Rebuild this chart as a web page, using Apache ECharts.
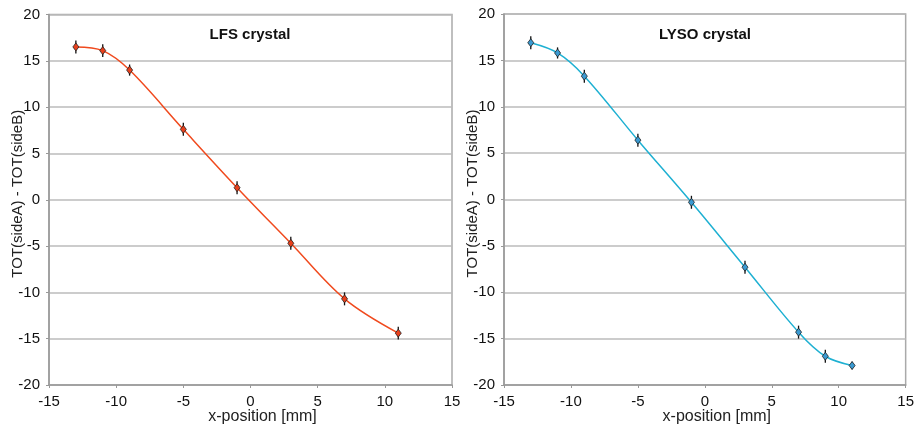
<!DOCTYPE html>
<html>
<head>
<meta charset="utf-8">
<script src="https://cdn.jsdelivr.net/npm/echarts@6/dist/echarts.min.js"></script>
<style>
  html, body { margin: 0; padding: 0; background: #fff; }
  #chart { width: 917px; height: 430px; }
</style>
</head>
<body>
<div id="chart"></div>
<script>
// Time-over-threshold difference between the two crystal ends vs. beam x-position
const lfsX = [-13, -11, -9, -5, -1, 3, 7, 11];
const lfsY = [16.5, 16.1, 14.0, 7.6, 1.3, -4.7, -10.7, -14.4];
const lfsErr = [0.7, 0.7, 0.6, 0.7, 0.7, 0.7, 0.7, 0.7];

const lysoX = [-13, -11, -9, -5, -1, 3, 7, 9, 11];
const lysoY = [16.9, 15.8, 13.3, 6.4, -0.3, -7.3, -14.3, -16.9, -17.9];
const lysoErr = [0.7, 0.6, 0.7, 0.7, 0.7, 0.7, 0.7, 0.7, 0.4];

const xTicks = { min: -15, max: 15, interval: 5 };
const yTicks = { min: -20, max: 20, interval: 5 };

const titles = ['LFS crystal', 'LYSO crystal'];
const xName = 'x-position [mm]';
const yName = 'TOT(sideA) - TOT(sideB)';

const FONT = '"Liberation Sans", Arial, Helvetica, sans-serif';

function pairs(xs, ys) { return xs.map((x, i) => [x, ys[i]]); }
function errTriples(xs, ys, es) { return xs.map((x, i) => [x, ys[i] - es[i], ys[i] + es[i]]); }

function xAxisCfg(idx) {
  return {
    gridIndex: idx, type: 'value', min: xTicks.min, max: xTicks.max, interval: xTicks.interval,
    name: xName, nameLocation: 'middle', nameGap: 24, nameMoveOverlap: false,
    nameTextStyle: { fontFamily: FONT, fontSize: 16, color: '#222', padding: [0, 0, 0, 24] },
    axisLine: { show: true, onZero: false, lineStyle: { color: '#999', width: 1.5 } },
    axisTick: { show: true, length: 3, lineStyle: { color: '#999' } },
    axisLabel: { fontFamily: FONT, fontSize: 15, color: '#111', margin: 9 },
    splitLine: { show: false }
  };
}
function yAxisCfg(idx) {
  return {
    gridIndex: idx, type: 'value', min: yTicks.min, max: yTicks.max, interval: yTicks.interval,
    name: yName, nameLocation: 'middle', nameGap: 24, nameMoveOverlap: false,
    nameTextStyle: { fontFamily: FONT, fontSize: 15, color: '#222', padding: [0, 0, 0, 12] },
    axisLine: { show: true, onZero: false, lineStyle: { color: '#999', width: 1.5 } },
    axisTick: { show: true, length: 3, lineStyle: { color: '#999' } },
    axisLabel: { fontFamily: FONT, fontSize: 15, color: '#111', margin: 9 },
    splitLine: { show: true, lineStyle: { color: '#bbb', width: 1.5 } }
  };
}

function errorSeries(idx, data) {
  return {
    type: 'custom', xAxisIndex: idx, yAxisIndex: idx, z: 3,
    data: data,
    renderItem: function (params, api) {
      const lo = api.coord([api.value(0), api.value(1)]);
      const hi = api.coord([api.value(0), api.value(2)]);
      return {
        type: 'line',
        shape: { x1: lo[0], y1: lo[1], x2: hi[0], y2: hi[1] },
        style: { stroke: '#111', lineWidth: 1.3 }
      };
    }
  };
}

function curveSeries(idx, data, lineColor, markerColor) {
  return {
    type: 'line', xAxisIndex: idx, yAxisIndex: idx, z: 4,
    data: data, smooth: 0.35,
    lineStyle: { color: lineColor, width: 1.5 },
    symbol: 'diamond', symbolSize: [6, 8],
    itemStyle: { color: markerColor, borderColor: '#222', borderWidth: 0.8 }
  };
}

const chart = echarts.init(document.getElementById('chart'), null, { renderer: 'canvas' });
chart.setOption({
  animation: false,
  backgroundColor: '#fff',
  title: [
    { text: titles[0], left: 245, top: 22, textAlign: 'center',
      textStyle: { fontFamily: FONT, fontSize: 15, fontWeight: 'bold', color: '#111' } },
    { text: titles[1], left: 700, top: 22, textAlign: 'center',
      textStyle: { fontFamily: FONT, fontSize: 15, fontWeight: 'bold', color: '#111' } }
  ],
  grid: [
    { left: 49, right: 465, top: 14.5, bottom: 44.5, show: true, borderColor: '#aaa', borderWidth: 1.5, backgroundColor: 'transparent' },
    { left: 504, right: 10.5, top: 14, bottom: 43.5, show: true, borderColor: '#aaa', borderWidth: 1.5, backgroundColor: 'transparent' }
  ],
  xAxis: [xAxisCfg(0), xAxisCfg(1)],
  yAxis: [yAxisCfg(0), yAxisCfg(1)],
  series: [
    errorSeries(0, errTriples(lfsX, lfsY, lfsErr)),
    curveSeries(0, pairs(lfsX, lfsY), '#f04a1e', '#e8401c'),
    errorSeries(1, errTriples(lysoX, lysoY, lysoErr)),
    curveSeries(1, pairs(lysoX, lysoY), '#1eb0d2', '#3a9ad2')
  ]
});
</script>
</body>
</html>
